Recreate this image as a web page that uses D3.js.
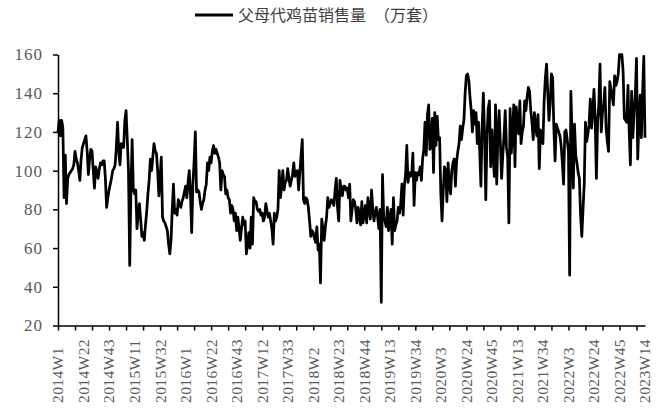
<!DOCTYPE html>
<html>
<head>
<meta charset="utf-8">
<script src="https://cdn.jsdelivr.net/npm/d3@7"></script>
<style>
  body { margin: 0; background: #fff; }
  svg { display: block; }
</style>
</head>
<body>
<svg id="chart" width="663" height="412"></svg>
<script>
// Weekly parent-stock chick sales (10k sets), 2014W1 – 2023W14
const years = [2014, 2015, 2016, 2017, 2018, 2019, 2020, 2021, 2022, 2023];
const weeksPerYear = [53, 52, 52, 52, 52, 52, 53, 52, 52, 14];

const sales2014 = [120,126,118,126,122,86,108,83,96,98, 99,100,101,103,110,106,104,100,95,106,
  112,114,116,118,110,98,106,111,110,100, 91,102,99,96,101,104,103,105,105,96,
  81,86,90,93,96,100,101,103,112,125, 110,103,114];
const sales2015 = [112,112,126,131,116,100,51,90,116,90, 88,90,70,78,83,75,66,68,64,72,
  79,88,95,106,100,107,114,110,109,100, 87,96,107,76,74,73,71,69,62,57,
  64,80,93,78,80,77,85,83,81,84, 86,89];
const sales2016 = [92,86,94,100,88,68,93,105,120,89, 90,89,84,80,83,85,90,93,104,100,
  107,104,110,113,109,111,109,107,104,90, 100,98,97,88,90,86,85,78,82,80,
  74,78,69,76,70,64,70,76,72,74, 57,62];
const sales2017 = [68,60,76,62,86,84,84,80,79,80, 77,78,74,76,83,79,76,78,74,70,
  62,78,74,76,80,100,86,92,100,90, 94,95,101,96,92,95,98,104,97,99,
  100,90,99,108,116,85,83,86,85,81, 74,66];
const sales2018 = [69,68,65,63,71,59,62,42,75,70, 64,71,76,86,81,83,85,84,82,90,
  96,81,74,95,90,87,92,92,90,91, 86,93,74,80,85,84,80,73,81,77,
  72,84,73,78,82,73,86,80,75,90, 80,74];
const sales2019 = [79,81,76,70,80,32,98,76,74,71, 81,69,76,80,62,86,69,72,74,81,
  78,83,93,77,92,98,113,94,99,97, 98,109,82,99,95,99,98,102,95,106,
  111,125,108,129,134,111,113,127,99,130, 113,128];
const sales2020 = [116,117,88,74,90,102,100,84,104,92, 88,100,104,106,92,105,110,114,123,116,
  122,126,140,149,150,147,138,131,120,131, 124,130,114,125,110,92,123,140,118,85,
  118,132,136,102,121,108,97,134,93,120, 131,114,96];
const sales2021 = [108,118,131,112,107,73,132,109,120,134, 102,133,125,119,136,114,120,123,136,131,
  138,143,141,131,125,116,130,124,118,129, 101,121,118,114,136,148,155,140,126,135,
  150,148,122,105,124,122,120,118,113,104, 93,120];
const sales2022 = [121,116,110,46,141,118,91,124,108,104, 99,96,77,66,80,93,125,115,119,124,
  137,122,130,142,127,96,125,134,155,120, 130,134,143,122,115,110,146,142,138,134,
  149,144,146,150,160,160,160,151,127,126, 125,144];
const sales2023 = [120,103,141,117,130,139,158,106,125,139, 117,140,159,117];

const yTicks = [20, 40, 60, 80, 100, 120, 140, 160];
const seriesName = "父母代鸡苗销售量　（万套）";

// Week categories such as "2014W1"
const categories = [];
years.forEach((yr, k) => {
  for (let w = 1; w <= weeksPerYear[k]; w++) categories.push(yr + "W" + w);
});
const values = [].concat(sales2014, sales2015, sales2016, sales2017, sales2018,
  sales2019, sales2020, sales2021, sales2022, sales2023);
const data = categories.map((c, i) => ({ cat: c, v: values[i] }));

const svg = d3.select("#chart");
const plotLeft = 58, plotRight = 645, plotTop = 54.5, plotBottom = 325.5;

const x = d3.scalePoint().domain(categories).range([plotLeft, plotRight]);
const y = d3.scaleLinear().domain([20, 160]).range([plotBottom, plotTop]);

const axisColor = "#000";
const labelColor = "#595959";
const serif = "'Liberation Serif', 'Times New Roman', serif";

// Y axis
const yAxis = svg.append("g")
  .attr("transform", `translate(${plotLeft},0)`)
  .call(d3.axisLeft(y).tickValues(yTicks).tickSize(5).tickSizeOuter(0).tickPadding(10));
yAxis.select(".domain").attr("stroke", axisColor).attr("stroke-width", 1.5);
yAxis.selectAll(".tick line").attr("stroke", axisColor).attr("stroke-width", 1.5);
yAxis.selectAll(".tick text")
  .attr("fill", labelColor)
  .style("font-family", serif)
  .style("font-size", "17px")
  .style("letter-spacing", "1px");

// X axis: tick marks every 14 weeks, labels every 21 weeks
const tickCats = categories.filter((d, i) => i % 14 === 0);
const labelCats = categories.filter((d, i) => i % 21 === 0);

const xAxis = svg.append("g")
  .attr("transform", `translate(0,${plotBottom})`)
  .call(d3.axisBottom(x).tickValues(tickCats).tickSize(5).tickSizeOuter(0).tickFormat(""));
xAxis.select(".domain").attr("stroke", axisColor).attr("stroke-width", 1.5);
xAxis.selectAll(".tick line").attr("stroke", axisColor).attr("stroke-width", 1.5);

// Rotated week labels, all starting from a common baseline near the bottom
svg.append("g")
  .selectAll("text")
  .data(labelCats)
  .join("text")
  .attr("transform", d => `translate(${x(d)},403) rotate(-90)`)
  .attr("text-anchor", "start")
  .attr("dy", "0.35em")
  .attr("fill", labelColor)
  .style("font-family", serif)
  .style("font-size", "15.5px")
  .style("letter-spacing", "0.4px")
  .text(d => d);

// Series line
const line = d3.line()
  .x(d => x(d.cat))
  .y(d => y(d.v));

svg.append("path")
  .datum(data)
  .attr("d", line)
  .attr("fill", "none")
  .attr("stroke", "#000")
  .attr("stroke-width", 2.75)
  .attr("stroke-linejoin", "round");

// Legend
const legend = svg.append("g").attr("transform", "translate(195,15)");
legend.append("line")
  .attr("x1", 0).attr("x2", 38).attr("y1", 0).attr("y2", 0)
  .attr("stroke", "#000").attr("stroke-width", 3);
legend.append("text")
  .attr("x", 43).attr("y", 0).attr("dy", "0.35em")
  .attr("fill", "#404040")
  .style("font-family", "'Noto Sans CJK SC', sans-serif")
  .style("font-size", "16px")
  .text(seriesName);
</script>
</body>
</html>
